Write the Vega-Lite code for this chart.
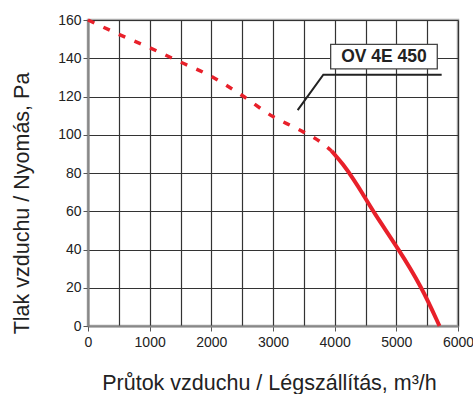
{
  "$schema": "https://vega.github.io/schema/vega-lite/v6.json",
  "autosize": "none",
  "width": 370,
  "height": 306,
  "padding": {"left": 88, "top": 20, "right": 15, "bottom": 68},
  "background": "white",
  "config": {
    "view": {"stroke": "#aaaaaa", "strokeWidth": 2.5},
    "axis": {
      "labelFont": "Liberation Sans",
      "labelFontSize": 14,
      "labelColor": "#222222",
      "titleFont": "Liberation Sans",
      "titleFontSize": 21.5,
      "titleFontWeight": "normal",
      "titleColor": "#222222",
      "gridColor": "#333333",
      "gridWidth": 1.2,
      "gridOpacity": 1,
      "domainColor": "#888888",
      "domainWidth": 2,
      "tickColor": "#555555",
      "tickSize": 5,
      "tickWidth": 1
    }
  },
  "datasets": {
    "dashed": [
      {"x": 0, "y": 160},
      {"x": 500, "y": 152.5},
      {"x": 1000, "y": 145.5},
      {"x": 1500, "y": 138},
      {"x": 2000, "y": 130.5},
      {"x": 2500, "y": 120.5},
      {"x": 3000, "y": 109.5},
      {"x": 3400, "y": 103},
      {"x": 3800, "y": 95.5},
      {"x": 3950, "y": 91.5}
    ],
    "solid": [
      {"x": 3950, "y": 91.5},
      {"x": 4140, "y": 84.5},
      {"x": 4300, "y": 77},
      {"x": 4440, "y": 70},
      {"x": 4630, "y": 59.5},
      {"x": 5030, "y": 40.5},
      {"x": 5410, "y": 20.5},
      {"x": 5700, "y": 0}
    ],
    "leader": [
      {"x": 3400, "y": 112.9},
      {"x": 3816, "y": 131.4},
      {"x": 5735, "y": 131.4}
    ],
    "box": [
      {"x": 3935, "x2": 5664, "y": 134.4, "y2": 147.3}
    ],
    "label": [
      {"x": 4800, "y": 140.8, "name": "OV 4E 450"}
    ]
  },
  "encoding": {
    "x": {
      "field": "x", "type": "quantitative",
      "scale": {"domain": [0, 6000], "nice": false, "zero": false},
      "axis": {
        "title": "Průtok vzduchu / Légszállítás, m³/h",
        "values": [0, 500, 1000, 1500, 2000, 2500, 3000, 3500, 4000, 4500, 5000, 5500, 6000],
        "format": "d",
        "labelExpr": "datum.value % 1000 === 0 ? datum.label : ''",
        "tickOpacity": {"condition": {"test": "datum.value % 1000 === 0", "value": 1}, "value": 0},
        "labelPadding": 4,
        "labelFlush": false,
        "labelOverlap": false,
        "titleY": 63,
        "titleBaseline": "alphabetic",
        "titleX": 181
      }
    },
    "y": {
      "field": "y", "type": "quantitative",
      "scale": {"domain": [0, 160], "nice": false, "zero": false},
      "axis": {
        "title": "Tlak vzduchu / Nyomás, Pa",
        "values": [0, 20, 40, 60, 80, 100, 120, 140, 160],
        "labelPadding": 2,
        "labelFlush": false,
        "labelOverlap": false,
        "titleX": -66,
        "titleY": 183,
        "titleBaseline": "middle"
      }
    }
  },
  "layer": [
    {
      "data": {"name": "dashed"},
      "mark": {"type": "line", "color": "#e8202a", "strokeWidth": 3.5, "strokeDash": [7, 10], "strokeCap": "butt", "interpolate": "monotone"}
    },
    {
      "data": {"name": "solid"},
      "mark": {"type": "line", "color": "#e8202a", "strokeWidth": 4, "strokeCap": "butt", "interpolate": "basis"}
    },
    {
      "data": {"name": "leader"},
      "mark": {"type": "line", "color": "#222222", "strokeWidth": 2}
    },
    {
      "data": {"name": "box"},
      "mark": {"type": "rect", "fill": "white", "stroke": "#444444", "strokeWidth": 1.3},
      "encoding": {
        "x2": {"field": "x2"},
        "y2": {"field": "y2"}
      }
    },
    {
      "data": {"name": "label"},
      "mark": {"type": "text", "font": "Liberation Sans", "fontWeight": "bold", "fontSize": 17.5, "color": "#222222", "baseline": "middle", "align": "center"},
      "encoding": {
        "text": {"field": "name"}
      }
    }
  ]
}
